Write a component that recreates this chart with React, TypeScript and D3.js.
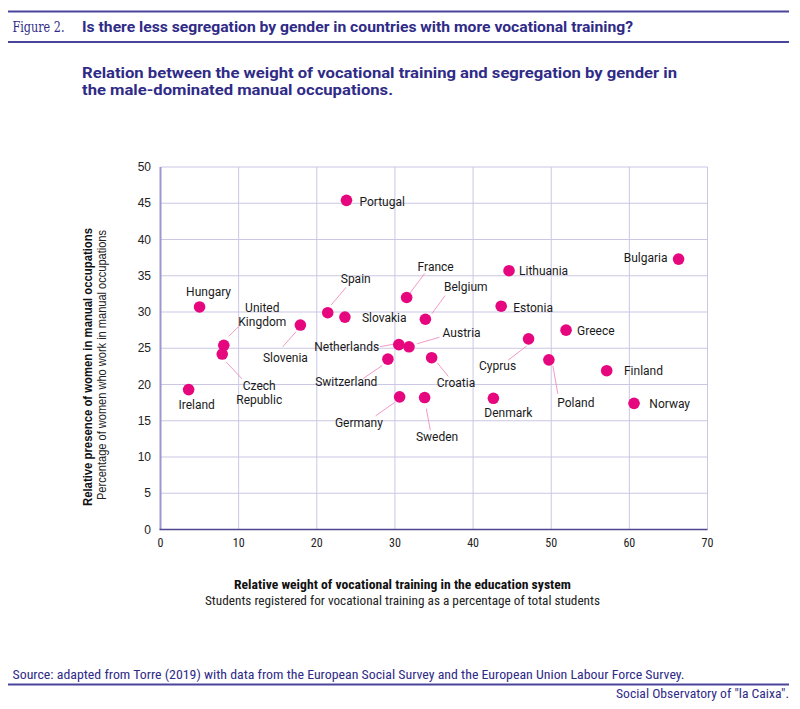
import React from "react";
import * as d3 from "d3";

// values
const countries = [
  "Portugal", "Hungary", "United Kingdom", "Czech Republic", "Ireland",
  "Slovenia", "Spain", "Slovakia", "France", "Belgium", "Netherlands",
  "Austria", "Switzerland", "Croatia", "Germany", "Sweden", "Lithuania",
  "Estonia", "Bulgaria", "Greece", "Cyprus", "Poland", "Finland", "Norway",
  "Denmark",
];
const vocationalShare = [
  23.8, 5.0, 8.1, 7.9, 3.6, 17.9, 21.4, 23.6, 31.5, 33.9, 30.5, 31.8, 29.1,
  34.7, 30.6, 33.8, 44.6, 43.6, 66.3, 51.9, 47.1, 49.7, 57.1, 60.6, 42.6,
];
const womenShare = [
  45.4, 30.7, 25.4, 24.2, 19.3, 28.2, 29.9, 29.3, 32.0, 29.0, 25.5, 25.2,
  23.5, 23.7, 18.3, 18.2, 35.7, 30.8, 37.3, 27.5, 26.3, 23.4, 21.9, 17.4,
  18.1,
];
const xTicks = [0, 10, 20, 30, 40, 50, 60, 70];
const yTicks = [0, 5, 10, 15, 20, 25, 30, 35, 40, 45, 50];

type Placement = {
  anchor: "start" | "middle" | "end";
  dx: number;
  dy: number;
  wrap?: boolean;
  leader?: [number, number, number, number];
};

// label offsets relative to the dot, in pixels
const placement: Record<string, Placement> = {
  Portugal: { anchor: "start", dx: 13, dy: 1.5 },
  Hungary: { anchor: "middle", dx: 9, dy: -15 },
  "United Kingdom": { anchor: "middle", dx: 38.5, dy: -30.5, wrap: true, leader: [5, -9, 15, -19] },
  "Czech Republic": { anchor: "middle", dx: 37, dy: 38.8, wrap: true, leader: [4, 8, 20, 25] },
  Ireland: { anchor: "middle", dx: 8, dy: 15.5 },
  Slovenia: { anchor: "middle", dx: -15, dy: 33, leader: [-17.7, 21.7, -4.3, 6.7] },
  Spain: { anchor: "middle", dx: 28, dy: -34, leader: [3.4, -7.7, 18.4, -25.3] },
  Slovakia: { anchor: "start", dx: 17, dy: 0.5 },
  France: { anchor: "middle", dx: 29, dy: -30.6, leader: [3, -4, 18, -24] },
  Belgium: { anchor: "middle", dx: 40.4, dy: -32, leader: [6.4, -5.4, 19.7, -23.7] },
  Netherlands: { anchor: "end", dx: -19.7, dy: 2.6, leader: [-18.7, 2, -3.7, -0.7] },
  Austria: { anchor: "middle", dx: 52.6, dy: -13.6, leader: [8, -3, 30.6, -9.6] },
  Switzerland: { anchor: "middle", dx: -41.6, dy: 23, leader: [-25, 19.6, -5.6, 6.3] },
  Croatia: { anchor: "middle", dx: 24.3, dy: 25.4, leader: [5.6, 5, 16.6, 18.7] },
  Germany: { anchor: "middle", dx: -40.7, dy: 26, leader: [-24, 19, -5, 5.6] },
  Sweden: { anchor: "middle", dx: 12.4, dy: 39.4, leader: [1.7, 11, 5.7, 32.7] },
  Lithuania: { anchor: "start", dx: 10, dy: 0 },
  Estonia: { anchor: "start", dx: 12, dy: 1.7 },
  Bulgaria: { anchor: "end", dx: -11, dy: -1 },
  Greece: { anchor: "start", dx: 11, dy: 0.7 },
  Cyprus: { anchor: "middle", dx: -31, dy: 27, leader: [-20.4, 21.3, -2, 7.3] },
  Poland: { anchor: "middle", dx: 27, dy: 42.7, leader: [4, 6, 9, 34] },
  Finland: { anchor: "start", dx: 17.3, dy: 0 },
  Norway: { anchor: "start", dx: 15.3, dy: 0.4 },
  Denmark: { anchor: "middle", dx: 15, dy: 15 },
};

const W = 800;
const H = 709;
const indigo = "#2f2b87";
const rule = "#4a459c";
const dotColor = "#e6077f";
const leaderColor = "#f08dc0";
const labelFont = "Roboto, 'Noto Sans', sans-serif";
const narrowFont = "'Liberation Sans Narrow', 'Roboto Condensed', Roboto, sans-serif";

const x = d3.scaleLinear().domain([0, 70]).range([160.5, 707.5]);
const y = d3.scaleLinear().domain([0, 50]).range([529.5, 167]);

const App = () => {
  const points = countries.map((c, i) => ({
    name: c,
    cx: x(vocationalShare[i]),
    cy: y(womenShare[i]),
  }));

  return (
    <div style={{ position: "absolute", left: 0, top: 0 }}>
      <svg width={W} height={H} style={{ display: "block", background: "#fff" }}>
        {/* header */}
        <line x1={8} x2={789} y1={11.5} y2={11.5} stroke={rule} strokeWidth={2} />
        <text x={12.5} y={32} fill={indigo} fontFamily="'DejaVu Serif', 'Liberation Serif', serif" fontSize={15} textLength={52} lengthAdjust="spacingAndGlyphs">
          Figure 2.
        </text>
        <text x={82} y={32} fill={indigo} fontFamily={labelFont} fontWeight="bold" fontSize={15} textLength={551} lengthAdjust="spacingAndGlyphs">
          Is there less segregation by gender in countries with more vocational training?
        </text>
        <line x1={8} x2={789} y1={42} y2={42} stroke={rule} strokeWidth={2} />
        <text x={82} y={78} fill={indigo} fontFamily={labelFont} fontWeight="bold" fontSize={15} textLength={595} lengthAdjust="spacingAndGlyphs">
          Relation between the weight of vocational training and segregation by gender in
        </text>
        <text x={82} y={95} fill={indigo} fontFamily={labelFont} fontWeight="bold" fontSize={15} textLength={311} lengthAdjust="spacingAndGlyphs">
          the male-dominated manual occupations.
        </text>

        {/* grid */}
        {xTicks.filter((t) => t > 0).map((t) => (
          <line key={"gx" + t} x1={x(t)} x2={x(t)} y1={y(50)} y2={y(0)} stroke="#cbc7e4" strokeWidth={1} />
        ))}
        {yTicks.filter((t) => t > 0).map((t) => (
          <line key={"gy" + t} x1={x(0)} x2={x(70)} y1={y(t)} y2={y(t)} stroke="#cbc7e4" strokeWidth={1} />
        ))}
        <line x1={x(0)} x2={x(0)} y1={y(50)} y2={y(0)} stroke="#9c97cf" strokeWidth={2} />
        <line x1={x(0) - 1} x2={x(70)} y1={y(0)} y2={y(0)} stroke="#4b4792" strokeWidth={1.5} />

        {/* y ticks */}
        {yTicks.map((t) => (
          <text key={"ty" + t} x={151} y={y(t)} dy="0.35em" textAnchor="end" fontFamily="'Liberation Sans', Arial, sans-serif" fontSize={12} fill="#222">
            {t}
          </text>
        ))}
        {/* x ticks */}
        {xTicks.map((t) => (
          <text key={"tx" + t} x={x(t)} y={547} textAnchor="middle" fontFamily={narrowFont} fontSize={12} fill="#222">
            {t}
          </text>
        ))}

        {/* axis titles */}
        <g transform="translate(92,367) rotate(-90)">
          <text textAnchor="middle" fontFamily="'Liberation Sans', Arial, sans-serif" fontWeight="bold" fontSize={12} fill="#111" textLength={278} lengthAdjust="spacingAndGlyphs">
            Relative presence of women in manual occupations
          </text>
        </g>
        <g transform="translate(105.5,365) rotate(-90)">
          <text textAnchor="middle" fontFamily="'Liberation Sans', Arial, sans-serif" fontSize={12} fill="#222" textLength={270} lengthAdjust="spacingAndGlyphs">
            Percentage of women who work in manual occupations
          </text>
        </g>
        <text x={402.5} y={589} textAnchor="middle" fontFamily={narrowFont} fontWeight="bold" fontSize={12.5} fill="#111" textLength={337} lengthAdjust="spacingAndGlyphs">
          Relative weight of vocational training in the education system
        </text>
        <text x={402.5} y={604.5} textAnchor="middle" fontFamily={narrowFont} fontSize={12.5} fill="#222" textLength={395} lengthAdjust="spacingAndGlyphs">
          Students registered for vocational training as a percentage of total students
        </text>

        {/* leaders */}
        {points.map((p) => {
          const l = placement[p.name].leader;
          if (!l) return null;
          return (
            <line key={"l" + p.name} x1={p.cx + l[0]} y1={p.cy + l[1]} x2={p.cx + l[2]} y2={p.cy + l[3]} stroke={leaderColor} strokeWidth={0.9} />
          );
        })}

        {/* dots */}
        {points.map((p) => (
          <circle key={"c" + p.name} cx={p.cx} cy={p.cy} r={5.8} fill={dotColor} />
        ))}

        {/* labels */}
        {points.map((p) => {
          const pl = placement[p.name];
          const lx = p.cx + pl.dx;
          const ly = p.cy + pl.dy;
          if (pl.wrap) {
            const parts = p.name.split(" ");
            return (
              <text key={"t" + p.name} x={lx} y={ly} textAnchor={pl.anchor} fontFamily={labelFont} fontSize={12} fill="#1a1a1a">
                {parts.map((s, k) => (
                  <tspan key={k} x={lx} y={ly + (k - (parts.length - 1) / 2) * 13.6} dy="0.35em">
                    {s}
                  </tspan>
                ))}
              </text>
            );
          }
          return (
            <text key={"t" + p.name} x={lx} y={ly} dy="0.35em" textAnchor={pl.anchor} fontFamily={labelFont} fontSize={12} fill="#1a1a1a">
              {p.name}
            </text>
          );
        })}

        {/* footer */}
        <text x={12.5} y={678.5} fill={indigo} fontFamily={narrowFont} fontSize={12.5} textLength={672} lengthAdjust="spacingAndGlyphs">
          Source: adapted from Torre (2019) with data from the European Social Survey and the European Union Labour Force Survey.
        </text>
        <line x1={8} x2={789} y1={684.5} y2={684.5} stroke={rule} strokeWidth={2} />
        <text x={789} y={697.5} textAnchor="end" fill={indigo} fontFamily={narrowFont} fontSize={12.5} textLength={173} lengthAdjust="spacingAndGlyphs">
          Social Observatory of "la Caixa".
        </text>
      </svg>
    </div>
  );
};

export default App;
